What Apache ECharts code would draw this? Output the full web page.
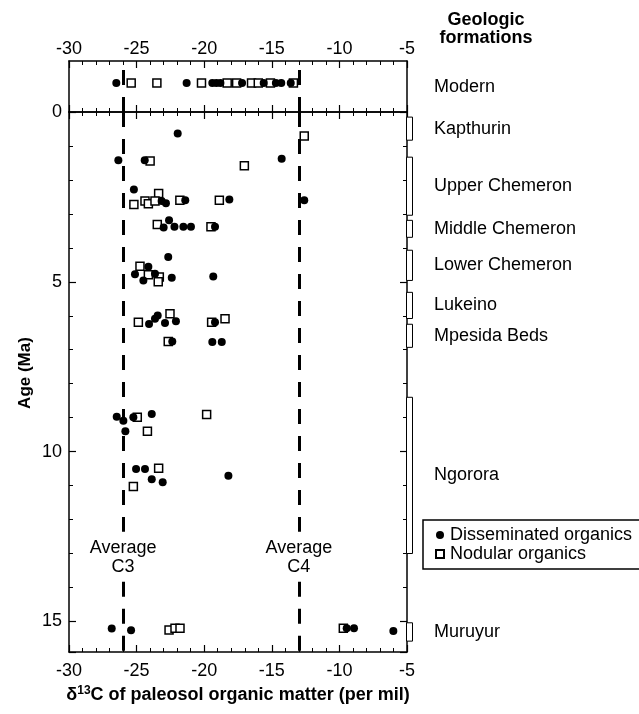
<!DOCTYPE html>
<html>
<head>
<meta charset="utf-8">
<script src="https://cdn.jsdelivr.net/npm/echarts@6/dist/echarts.min.js"></script>
<style>
html, body { margin: 0; padding: 0; background: #fff; }
#chart { width: 639px; height: 714px; }
</style>
</head>
<body>
<div id="chart"></div>
<script>
// d13C values (per mil) for the modern soils, top strip
var modernDisseminated = [-26.5, -21.3, -19.4, -19.1, -18.8, -17.2, -15.6, -14.7, -14.3, -13.6];
var modernNodular = [-25.4, -23.5, -20.2, -18.3, -17.6, -16.5, -16.0, -15.1, -13.4];

// [d13C, age Ma]
var disseminated = [
    [-21.96, 0.63], [-26.35, 1.42], [-24.4, 1.42], [-14.27, 1.38], [-25.2, 2.28],
    [-23.15, 2.62], [-22.83, 2.69], [-21.4, 2.6], [-18.14, 2.58], [-12.6, 2.6],
    [-22.6, 3.19], [-23.0, 3.40], [-22.2, 3.38], [-21.54, 3.38], [-20.98, 3.38], [-19.2, 3.38],
    [-22.66, 4.27], [-24.13, 4.56], [-25.12, 4.78], [-23.64, 4.76], [-24.5, 4.96],
    [-22.4, 4.88], [-19.33, 4.84],
    [-24.08, 6.24], [-23.64, 6.09], [-23.44, 5.99], [-22.9, 6.21], [-22.09, 6.16],
    [-19.2, 6.19], [-22.36, 6.76], [-19.4, 6.77], [-18.7, 6.77],
    [-26.47, 8.97], [-25.98, 9.09], [-25.24, 8.99], [-23.88, 8.89], [-25.83, 9.40],
    [-25.04, 10.51], [-24.38, 10.51], [-23.88, 10.81], [-23.07, 10.9], [-18.21, 10.71],
    [-26.84, 15.21], [-25.41, 15.26], [-9.46, 15.2], [-8.92, 15.2], [-6.01, 15.28]
];
var nodular = [
    [-12.6, 0.71], [-24.0, 1.44], [-17.03, 1.58], [-23.37, 2.40], [-25.2, 2.72],
    [-24.38, 2.62], [-24.13, 2.70], [-23.64, 2.62], [-21.8, 2.6], [-18.88, 2.6],
    [-23.47, 3.31], [-19.5, 3.38],
    [-24.75, 4.54], [-24.13, 4.79], [-23.32, 4.86], [-23.4, 5.0],
    [-24.87, 6.19], [-22.53, 5.94], [-19.45, 6.19], [-18.46, 6.09], [-22.66, 6.76],
    [-24.95, 8.99], [-19.82, 8.91], [-24.2, 9.40], [-23.37, 10.49], [-25.24, 11.03],
    [-22.6, 15.25], [-22.16, 15.2], [-21.79, 15.2], [-9.71, 15.2]
];

// geologic formations: name, age from, age to (Ma)
var formationNames = ['Kapthurin', 'Upper Chemeron', 'Middle Chemeron', 'Lower Chemeron',
    'Lukeino', 'Mpesida Beds', 'Ngorora', 'Muruyur'];
var formationFrom = [0.15, 1.33, 3.19, 4.07, 5.31, 6.25, 8.4, 15.04];
var formationTo = [0.83, 3.04, 3.69, 4.96, 6.08, 6.93, 13.0, 15.58];

var averageNames = ['C3', 'C4'];
var averageValues = [-26, -13];
var averageLabelAge = 13.11;
var averageGap = [12.36, 13.83];

var ageMax = 15.9;
var modernRow = 0.57;

var FONT = '"Liberation Sans", Arial, Helvetica, sans-serif';
var myChart = echarts.init(document.getElementById('chart'));

function xAx(grid, pos, labels) {
    return {
        type: 'value', gridIndex: grid, position: pos,
        min: -30, max: -5, interval: 5,
        axisLine: { show: true, onZero: false, lineStyle: { color: '#000', width: 1.5 } },
        axisTick: { show: true, inside: true, length: 7, lineStyle: { color: '#000', width: 1.2 } },
        minorTick: { show: true, splitNumber: 5, length: 4, lineStyle: { color: '#000', width: 1 } },
        axisLabel: { show: labels, color: '#000', fontSize: 18, fontFamily: FONT, margin: pos === 'top' ? 3 : 10 },
        splitLine: { show: false }
    };
}

function yAx(grid, pos, opts) {
    return Object.assign({
        type: 'value', gridIndex: grid, position: pos,
        axisLine: { show: true, onZero: false, lineStyle: { color: '#000', width: 1.5 } },
        axisTick: { show: false }, axisLabel: { show: false }, splitLine: { show: false }
    }, opts);
}

function avgLine(from, to) {
    return averageValues.map(function (v) {
        return [{ coord: [v, from] }, { coord: [v, to] }];
    });
}

var dashStyle = { color: '#000', width: 3, type: [15, 12] };
var ageTick = { show: true, inside: true, length: 7, lineStyle: { color: '#000', width: 1.2 } };
var ageMinor = { show: true, splitNumber: 5, length: 4, lineStyle: { color: '#000', width: 1 } };

option = {
    animation: false,
    textStyle: { fontFamily: FONT },
    grid: [
        { left: 69, top: 61, width: 338, height: 51, outerBoundsMode: 'none' },
        { left: 69, top: 112, width: 338, height: 540, outerBoundsMode: 'none' }
    ],
    xAxis: [
        xAx(0, 'top', true),
        xAx(0, 'bottom', false),
        xAx(1, 'top', false),
        Object.assign(xAx(1, 'bottom', true), {
            name: '{a|δ}{s|13}{a|C of paleosol organic matter (per mil)}',
            nameLocation: 'middle',
            nameGap: 33,
            nameTextStyle: {
                rich: {
                    a: { fontSize: 18, fontWeight: 'bold', color: '#000', fontFamily: FONT },
                    s: { fontSize: 12, fontWeight: 'bold', color: '#000', fontFamily: FONT, verticalAlign: 'top', padding: [0, 0, 8, 0] }
                }
            }
        })
    ],
    yAxis: [
        yAx(0, 'left', { min: 0, max: 1 }),
        yAx(0, 'right', { min: 0, max: 1 }),
        yAx(1, 'left', { inverse: true, min: 0, max: ageMax, interval: 5,
            axisTick: ageTick, minorTick: ageMinor,
            axisLabel: { show: true, showMaxLabel: false, color: '#000', fontSize: 18, fontFamily: FONT, margin: 7 } }),
        yAx(1, 'right', { inverse: true, min: 0, max: ageMax, interval: 5,
            axisTick: ageTick, minorTick: ageMinor })
    ],
    legend: {
        orient: 'vertical',
        left: 423, top: 520,
        data: [{ name: 'Disseminated organics', icon: 'circle' }, { name: 'Nodular organics', icon: 'rect' }],
        itemWidth: 8, itemHeight: 8, itemGap: 1,
        padding: [6, 8, 6, 12],
        borderColor: '#000', borderWidth: 1.5,
        textStyle: { color: '#000', fontSize: 18, fontFamily: FONT, padding: [0, 0, 0, 1] },
        selectedMode: false
    },
    graphic: [
        { type: 'text', x: 486, y: 29, style: { text: 'Geologic\nformations', lineHeight: 18, fill: '#000', font: 'bold 18px ' + FONT, textAlign: 'center', textVerticalAlign: 'middle' } },
        { type: 'text', x: 25, y: 373, rotation: Math.PI / 2, style: { text: 'Age (Ma)', fill: '#000', font: 'bold 17px ' + FONT, textAlign: 'center', textVerticalAlign: 'middle' } }
    ],
    series: [
        {
            name: 'Nodular organics', type: 'scatter', xAxisIndex: 0, yAxisIndex: 0,
            symbol: 'rect', symbolSize: 8,
            itemStyle: { color: '#fff', borderColor: '#000', borderWidth: 1.5, opacity: 1 },
            data: modernNodular.map(function (v) { return [v, modernRow]; }),
            markLine: { silent: true, symbol: ['none', 'none'], label: { show: false }, lineStyle: dashStyle, data: avgLine(0, 1) }
        },
        {
            name: 'Disseminated organics', type: 'scatter', xAxisIndex: 0, yAxisIndex: 0,
            symbol: 'circle', symbolSize: 8,
            itemStyle: { color: '#000', opacity: 1 },
            data: modernDisseminated.map(function (v) { return [v, modernRow]; })
        },
        {
            name: 'Nodular organics', type: 'scatter', xAxisIndex: 3, yAxisIndex: 2,
            symbol: 'rect', symbolSize: 8,
            itemStyle: { color: '#fff', borderColor: '#000', borderWidth: 1.5, opacity: 1 },
            data: nodular,
            markLine: { silent: true, symbol: ['none', 'none'], label: { show: false }, lineStyle: dashStyle,
                data: avgLine(0, averageGap[0]).concat(avgLine(averageGap[1], ageMax)) }
        },
        {
            name: 'Disseminated organics', type: 'scatter', xAxisIndex: 3, yAxisIndex: 2,
            symbol: 'circle', symbolSize: 8,
            itemStyle: { color: '#000', opacity: 1 },
            data: disseminated
        },
        {
            name: 'average', type: 'custom', xAxisIndex: 3, yAxisIndex: 2,
            silent: true, clip: false,
            data: averageValues.map(function (v) { return [v, averageLabelAge]; }),
            renderItem: function (params, api) {
                var p = api.coord([api.value(0), api.value(1)]);
                return { type: 'text', x: p[0], y: p[1],
                    style: { text: 'Average\n' + averageNames[params.dataIndex], lineHeight: 19, fill: '#000',
                             font: '18px ' + FONT, textAlign: 'center', textVerticalAlign: 'middle' } };
            }
        },
        {
            name: 'formations', type: 'custom', xAxisIndex: 3, yAxisIndex: 2,
            silent: true, clip: false,
            data: formationFrom.map(function (f, i) { return [f, formationTo[i]]; }),
            renderItem: function (params, api) {
                var a = api.coord([-5, api.value(0)]);
                var b = api.coord([-5, api.value(1)]);
                var m = api.coord([-5, (api.value(0) + api.value(1)) / 2]);
                return {
                    type: 'group',
                    children: [
                        { type: 'rect', shape: { x: a[0] - 0.5, y: a[1], width: 6, height: b[1] - a[1] },
                          style: { fill: '#fff', stroke: '#000', lineWidth: 1 } },
                        { type: 'text', x: a[0] + 27, y: m[1],
                          style: { text: formationNames[params.dataIndex], fill: '#000', font: '18px ' + FONT, textAlign: 'left', textVerticalAlign: 'middle' } }
                    ]
                };
            }
        },
        {
            name: 'modern', type: 'custom', xAxisIndex: 0, yAxisIndex: 0,
            silent: true, clip: false,
            data: [[0.48]],
            renderItem: function (params, api) {
                var m = api.coord([-5, api.value(0)]);
                return { type: 'text', x: m[0] + 27, y: m[1],
                    style: { text: 'Modern', fill: '#000', font: '18px ' + FONT, textAlign: 'left', textVerticalAlign: 'middle' } };
            }
        }
    ]
};
myChart.setOption(option);
</script>
</body>
</html>
